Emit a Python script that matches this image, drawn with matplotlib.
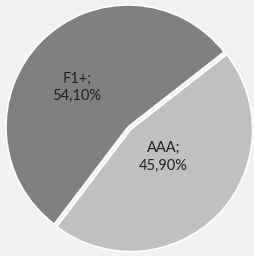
import numpy as np
import matplotlib
matplotlib.use("Agg")
import matplotlib.pyplot as plt

# slice data, in drawing order (clockwise from the upper right)
categories = ["AAA", "F1+"]
shares = [45.90, 54.10]
colors = ["#c0c0c0", "#808080"]
label_dist = [0.35, 0.53]
label_turn = [5, 7]   # degrees, nudges the label off the slice bisector

plt.rcParams['font.family'] = ['Lato', 'DejaVu Sans']

fig = plt.figure(figsize=(2.54, 2.56), dpi=100, facecolor="#f2f2f2")
ax = fig.add_axes([0, 0, 1, 1])
ax.set_facecolor("#f2f2f2")

wedges, _ = ax.pie(shares, colors=colors, startangle=38, counterclock=False,
                   explode=[0.03, 0], radius=1,
                   wedgeprops=dict(edgecolor="white", linewidth=1.2))

for w, name, val, d, turn in zip(wedges, categories, shares, label_dist, label_turn):
    mid = np.deg2rad((w.theta1 + w.theta2) / 2 + turn)
    cx, cy = w.center
    txt = f"{name};\n{val:.2f}%".replace(".", ",")
    ax.text(cx + d * np.cos(mid), cy + d * np.sin(mid), txt,
            ha="center", va="center", fontsize=10.5, color="#222222",
            linespacing=1.3)

# map the unit circle onto the same pixels as the reference
ax.set_aspect("auto")
ax.set_xlim(-128 / 122, 126 / 122)
ax.set_ylim(-129 / 122, 127 / 122)
ax.axis("off")

fig.savefig("out.png", dpi=100, facecolor=fig.get_facecolor())
